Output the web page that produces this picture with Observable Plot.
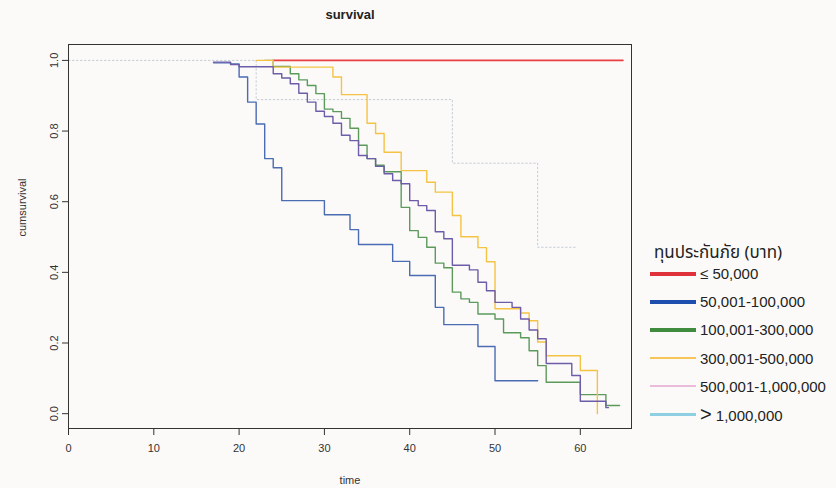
<!DOCTYPE html>
<html><head><meta charset="utf-8">
<script src="https://cdn.jsdelivr.net/npm/d3@7"></script>
<script src="https://cdn.jsdelivr.net/npm/@observablehq/plot@0.6"></script>
<style>
html,body{margin:0;padding:0;background:#fbfaf9;}
#wrap{position:relative;width:836px;height:488px;overflow:hidden;font-family:"Liberation Sans",Arial,sans-serif;}
#legend{position:absolute;left:634px;top:232px;width:202px;height:194px;background:#fbfaf9;}
#legend .title{position:absolute;left:20px;top:8px;font-size:17px;color:#222;font-family:"Noto Sans Thai","Noto Sans","Liberation Sans",sans-serif;white-space:nowrap;}
#legend .row{position:absolute;left:16px;height:20px;display:flex;align-items:center;white-space:nowrap;}
#legend .sw{width:46px;margin-right:4px;}
#legend .lab{font-size:15px;color:#222;}
</style>
</head><body>
<div id="wrap"><div id="chart"></div><div id="legend"></div></div>
<script>
// ---- data ----
const groups = ["≤ 50,000", "50,001-100,000", "100,001-300,000", "300,001-500,000", "500,001-1,000,000", "> 1,000,000"];
const legendColors = ["#e0323a", "#1e4fae", "#3f8c3f", "#f7c65a", "#e9bcdc", "#8ed0e2"];
const lineColors   = ["#ea3f42", "#4a6cb2", "#5c9a5c", "#f5c343", "#6d5ca8", "#c4ccd4"];

const time_g1 = [24, 65];
const surv_g1 = [1.0, 1.0];

const time_g2 = [17, 19, 20, 21, 22, 23, 24, 25, 30, 33, 34, 38, 40, 43, 44, 48, 50, 55];
const surv_g2 = [0.993, 0.99, 0.953, 0.882, 0.82, 0.722, 0.696, 0.603, 0.563, 0.521, 0.479, 0.431, 0.391, 0.301, 0.252, 0.190, 0.093, 0.093];

const time_g3 = [23, 24, 26, 27, 28, 29, 30, 31, 32, 33, 34, 35, 36, 37, 39, 40, 41, 42, 43, 44, 45, 46, 47, 48, 50, 51, 53, 54, 55, 56, 60, 63, 64.6];
const surv_g3 = [1.0, 0.983, 0.962, 0.945, 0.929, 0.906, 0.862, 0.855, 0.836, 0.808, 0.760, 0.722, 0.703, 0.685, 0.584, 0.518, 0.499, 0.471, 0.426, 0.413, 0.344, 0.325, 0.315, 0.282, 0.268, 0.229, 0.215, 0.178, 0.136, 0.089, 0.054, 0.023, 0.023];

const time_g4 = [22, 24, 31, 32, 35, 36, 37, 39, 42, 43, 45, 46, 48, 49, 50, 53, 54, 55, 56, 60, 62];
const surv_g4 = [1.0, 0.981, 0.953, 0.903, 0.822, 0.793, 0.740, 0.688, 0.655, 0.627, 0.561, 0.501, 0.470, 0.430, 0.297, 0.285, 0.263, 0.203, 0.164, 0.122, 0.0];

const time_g5 = [17, 19, 20, 24, 25, 26, 27, 28, 29, 30, 31, 32, 33, 34, 35, 36, 37, 38, 39, 40, 41, 42, 43, 44, 45, 47, 48, 49, 50, 52, 53, 54, 55, 56, 59, 60, 63, 63.3];
const surv_g5 = [0.995, 0.988, 0.982, 0.962, 0.950, 0.934, 0.907, 0.882, 0.856, 0.841, 0.822, 0.788, 0.773, 0.731, 0.722, 0.700, 0.679, 0.660, 0.651, 0.603, 0.589, 0.575, 0.515, 0.495, 0.420, 0.407, 0.372, 0.348, 0.315, 0.301, 0.268, 0.237, 0.212, 0.142, 0.108, 0.035, 0.017, 0.017];

const time_g6 = [0, 22, 45, 55, 59.5];
const surv_g6 = [1.0, 0.889, 0.709, 0.471, 0.471];

const xTicks = [0, 10, 20, 30, 40, 50, 60];
const yTicks = [0.0, 0.2, 0.4, 0.6, 0.8, 1.0];
const titleText = "survival";
const xLabel = "time";
const yLabel = "cumsurvival";
const legendTitle = "ทุนประกันภัย (บาท)";

// ---- build ----
const times = [time_g1, time_g2, time_g3, time_g4, time_g5, time_g6];
const survs = [surv_g1, surv_g2, surv_g3, surv_g4, surv_g5, surv_g6];
const rowsFor = i => times[i].map((t, k) => ({group: groups[i], t, s: survs[i][k]}));

const drawOrder = [5, 0, 1, 2, 3, 4];
const lineMarks = drawOrder.map(i => Plot.line(rowsFor(i), {
  x: "t", y: "s", curve: "step-after",
  stroke: lineColors[i],
  strokeWidth: i === 5 ? 1 : (i === 0 ? 1.6 : 1.4),
  strokeDasharray: i === 5 ? "1.5,2.5" : null
}));

const chart = Plot.plot({
  width: 836, height: 488,
  marginLeft: 68, marginRight: 205, marginTop: 44, marginBottom: 60,
  style: {background: "transparent", fontFamily: "Liberation Sans, Arial, sans-serif", color: "#333"},
  x: {domain: [0, 66]},
  y: {domain: [-0.042, 1.045]},
  marks: [
    ...lineMarks,
    Plot.frame({stroke: "#333", strokeWidth: 1}),
    Plot.axisX({ticks: xTicks, tickSize: 7, tickPadding: 9, fontSize: 11, label: null, stroke: "#333"}),
    Plot.axisY({ticks: yTicks, tickSize: 6, tickPadding: 5, tickRotate: -90, fontSize: 11, label: null, tickFormat: d3.format(".1f"), stroke: "#333"}),
    Plot.text([titleText], {frameAnchor: "top", dy: -35, fontWeight: "bold", fontSize: 13, fill: "#222"}),
    Plot.text([xLabel], {frameAnchor: "bottom", dy: 55, fontSize: 11, fill: "#333"}),
    Plot.text([yLabel], {frameAnchor: "left", dx: -46, rotate: -90, fontSize: 11, fill: "#333"})
  ]
});
document.getElementById("chart").appendChild(chart);

// ---- legend ----
const leg = document.getElementById("legend");
const tdiv = document.createElement("div");
tdiv.className = "title"; tdiv.textContent = legendTitle; leg.appendChild(tdiv);
const swH = [4, 4, 4, 2, 2, 3];
groups.forEach((g, i) => {
  const row = document.createElement("div");
  row.className = "row";
  row.style.top = (31.5 + i * 28.2) + "px";
  const sw = document.createElement("div");
  sw.className = "sw"; sw.style.height = swH[i] + "px"; sw.style.background = legendColors[i];
  const lab = document.createElement("span");
  lab.className = "lab"; lab.textContent = g;
  if (i === 5) lab.innerHTML = '<span style="font-size:20px;">&gt;</span> 1,000,000';
  row.appendChild(sw); row.appendChild(lab);
  leg.appendChild(row);
});
</script>
</body></html>
